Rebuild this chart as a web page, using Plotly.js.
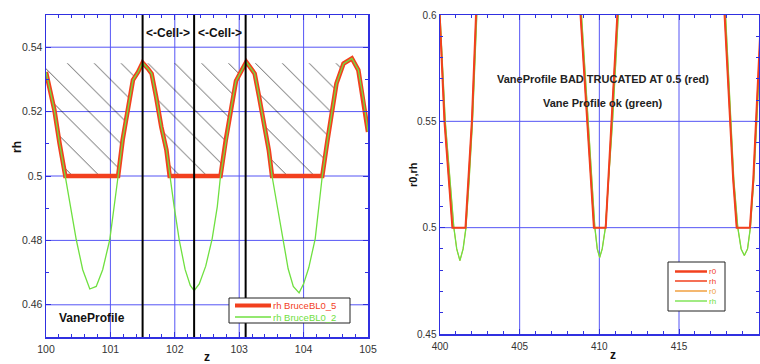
<!DOCTYPE html>
<html>
<head>
<meta charset="utf-8">
<script src="https://cdn.plot.ly/plotly-3.0.1.min.js"></script>
<style>html,body{margin:0;padding:0;background:#fff;}#chart{width:760px;height:364px;}</style>
</head>
<body>
<div id="chart"></div>
<script>
// ---------- Left panel data (z vs rh) ----------
var leftZ = [100.00,100.08,100.13,100.21,100.30,100.38,100.47,100.57,100.68,100.78,100.88,100.99,101.06,101.12,101.19,101.27,101.35,101.43,101.50,101.58,101.64,101.71,101.79,101.87,101.92,101.99,102.07,102.16,102.24,102.30,102.38,102.48,102.58,102.66,102.71,102.79,102.87,102.95,103.03,103.11,103.18,103.24,103.31,103.39,103.46,103.51,103.59,103.67,103.76,103.84,103.93,104.00,104.08,104.18,104.24,104.29,104.37,104.45,104.51,104.62,104.75,104.85,104.93,105.00];
var rhBL02 = [0.5323,0.5256,0.5205,0.5102,0.5000,0.4905,0.4802,0.4709,0.4649,0.4657,0.4709,0.4802,0.4900,0.5000,0.5112,0.5205,0.5298,0.5323,0.5352,0.5334,0.5318,0.5246,0.5153,0.5081,0.5000,0.4905,0.4800,0.4710,0.4660,0.4644,0.4665,0.4720,0.4805,0.4905,0.5000,0.5110,0.5205,0.5295,0.5325,0.5354,0.5335,0.5318,0.5245,0.5152,0.5080,0.5000,0.4905,0.4805,0.4712,0.4657,0.4637,0.4665,0.4715,0.4805,0.4905,0.5000,0.5110,0.5220,0.5287,0.5349,0.5365,0.5329,0.5236,0.5137];
var rhBL05 = [0.5323,0.5256,0.5205,0.5102,0.5000,0.5000,0.5000,0.5000,0.5000,0.5000,0.5000,0.5000,0.5000,0.5000,0.5112,0.5205,0.5298,0.5323,0.5352,0.5334,0.5318,0.5246,0.5153,0.5081,0.5000,0.5000,0.5000,0.5000,0.5000,0.5000,0.5000,0.5000,0.5000,0.5000,0.5000,0.5110,0.5205,0.5295,0.5325,0.5354,0.5335,0.5318,0.5245,0.5152,0.5080,0.5000,0.5000,0.5000,0.5000,0.5000,0.5000,0.5000,0.5000,0.5000,0.5000,0.5000,0.5110,0.5220,0.5287,0.5349,0.5365,0.5329,0.5236,0.5137];
var hatchTop = 0.535;
var hatchEndIndex = 61;          // hatch drawn up to the last peak
var cellBounds = [101.5, 102.3, 103.1];
var cellLabel = "<-Cell->";
var leftYGrid = [0.46, 0.48, 0.50, 0.52, 0.54];
var leftXGrid = [101, 102, 103, 104];

// ---------- Right panel data (z vs r0,rh) ----------
var zOk = [399.90,400.00,400.33,400.63,400.87,401.05,401.25,401.45,401.63,401.83,402.04,402.31,402.50,406.00,408.70,408.88,409.29,409.55,409.72,409.87,410.02,410.18,410.38,410.58,410.83,411.19,411.40,414.50,417.75,417.92,418.25,418.44,418.69,418.90,419.10,419.30,419.48,419.69,419.88,420.20];
var profOk = [0.620,0.600,0.550,0.5225,0.500,0.490,0.4845,0.490,0.500,0.5225,0.550,0.600,0.630,0.800,0.625,0.600,0.550,0.5225,0.500,0.490,0.486,0.490,0.500,0.5225,0.550,0.600,0.630,0.800,0.625,0.600,0.550,0.5225,0.500,0.490,0.4869,0.490,0.500,0.5225,0.550,0.600];
var zBad = [399.90,399.98,400.28,400.58,400.78,401.60,401.80,402.00,402.26,402.45,406.00,408.65,408.82,409.22,409.48,409.66,410.40,410.56,410.80,411.15,411.35,414.50,417.70,417.86,418.20,418.40,418.62,419.45,419.66,419.85,420.15];
var profBad = [0.620,0.600,0.550,0.5225,0.500,0.500,0.5225,0.550,0.600,0.630,0.800,0.625,0.600,0.550,0.5225,0.500,0.500,0.5225,0.550,0.600,0.630,0.800,0.625,0.600,0.550,0.5225,0.500,0.500,0.5225,0.550,0.600];
var rightYGrid = [0.50, 0.55];
var rightXGrid = [405, 410, 415];

var leftNames = ["rh BruceBL0_5", "rh BruceBL0_2"];
var rightNames = ["r0", "rh", "r0", "rh"];

var RED = "#f2401e", GREEN = "#6fe040", ORANGE = "#f0a040";
var W = 760, H = 364;
function px(x){ return x / W; }
function py(y){ return 1 - y / H; }

var hz = leftZ.slice(0, hatchEndIndex);
var traces = [
  {x: hz, y: hz.map(function(){return hatchTop;}), xaxis:'x', yaxis:'y', mode:'lines',
   line:{width:0, color:'rgba(0,0,0,0)'}, hoverinfo:'skip', showlegend:false},
  {x: hz, y: rhBL05.slice(0, hatchEndIndex), xaxis:'x', yaxis:'y', mode:'lines', fill:'tonexty',
   fillcolor:'rgba(0,0,0,0)', line:{width:0, color:'rgba(0,0,0,0)'},
   fillpattern:{shape:'\\', fgcolor:'#000', fgopacity:0.8, bgcolor:'rgba(0,0,0,0)', size:19, solidity:0.04},
   hoverinfo:'skip', showlegend:false},
  {x: leftZ, y: rhBL05, xaxis:'x', yaxis:'y', mode:'lines', name:leftNames[0],
   line:{color:RED, width:4.5}, showlegend:false},
  {x: leftZ, y: rhBL02, xaxis:'x', yaxis:'y', mode:'lines', name:leftNames[1],
   line:{color:GREEN, width:1.3}, showlegend:false},
  {x: zOk, y: profOk, xaxis:'x2', yaxis:'y2', mode:'lines', name:rightNames[2],
   line:{color:ORANGE, width:1}, showlegend:false},
  {x: zOk, y: profOk, xaxis:'x2', yaxis:'y2', mode:'lines', name:rightNames[3],
   line:{color:GREEN, width:1.3}, showlegend:false},
  {x: zBad, y: profBad, xaxis:'x2', yaxis:'y2', mode:'lines', name:rightNames[0],
   line:{color:RED, width:2}, showlegend:false},
  {x: zBad, y: profBad, xaxis:'x2', yaxis:'y2', mode:'lines', name:rightNames[1],
   line:{color:RED, width:1}, showlegend:false}
];

var FONT = "Liberation Sans, Arial, sans-serif";
var LINE = "#3030e0", GRID = "#5555f5";
function axisBase(o){
  var a = {showline:true, linecolor:LINE, linewidth:1.5, mirror:'allticks',
    showgrid:false, zeroline:false,
    ticks:'inside', ticklen:5, tickcolor:LINE, tickwidth:1,
    tickfont:{family:FONT, size:10.5, color:'#333'}, fixedrange:true};
  for (var k in o) a[k] = o[k];
  return a;
}

var shapes = [];
// grid lines
leftYGrid.forEach(function(v){
  shapes.push({type:'line', xref:'x domain', yref:'y', x0:0, x1:1, y0:v, y1:v,
    line:{color:GRID, width:1}, layer:'below'});
});
leftXGrid.forEach(function(v){
  shapes.push({type:'line', xref:'x', yref:'y domain', x0:v, x1:v, y0:0, y1:1,
    line:{color:GRID, width:1}, layer:'below'});
});
rightYGrid.forEach(function(v){
  shapes.push({type:'line', xref:'x2 domain', yref:'y2', x0:0, x1:1, y0:v, y1:v,
    line:{color:GRID, width:1}, layer:'below'});
});
rightXGrid.forEach(function(v){
  shapes.push({type:'line', xref:'x2', yref:'y2 domain', x0:v, x1:v, y0:0, y1:1,
    line:{color:GRID, width:1}, layer:'below'});
});
cellBounds.forEach(function(c){
  shapes.push({type:'line', xref:'x', yref:'y domain', x0:c, x1:c, y0:0, y1:1,
    line:{color:'#000', width:2}});
});
// left legend box & samples
shapes.push({type:'rect', xref:'paper', yref:'paper', x0:px(229), x1:px(350), y0:py(323), y1:py(298),
  line:{color:'#222', width:1}, fillcolor:'#fff', layer:'above'});
shapes.push({type:'line', xref:'paper', yref:'paper', x0:px(235), x1:px(271), y0:py(305.5), y1:py(305.5),
  line:{color:RED, width:4}, layer:'above'});
shapes.push({type:'line', xref:'paper', yref:'paper', x0:px(235), x1:px(271), y0:py(317), y1:py(317),
  line:{color:GREEN, width:1.3}, layer:'above'});
// right legend box & samples
shapes.push({type:'rect', xref:'paper', yref:'paper', x0:px(668), x1:px(725), y0:py(311), y1:py(262),
  line:{color:'#222', width:1}, fillcolor:'#fff', layer:'above'});
var rCols = [RED, RED, ORANGE, GREEN], rW = [2.5, 1.5, 1.5, 1.3], rY = [271.5, 281, 291, 301];
for (var i = 0; i < 4; i++) {
  shapes.push({type:'line', xref:'paper', yref:'paper', x0:px(675), x1:px(707), y0:py(rY[i]), y1:py(rY[i]),
    line:{color:rCols[i], width:rW[i]}, layer:'above'});
}

function ann(x, y, text, size, color, extra){
  var a = {xref:'paper', yref:'paper', x:px(x), y:py(y), text:text, showarrow:false,
    xanchor:'center', yanchor:'middle', font:{family:FONT, size:size, color:color}};
  if (extra) for (var k in extra) a[k] = extra[k];
  return a;
}
var annotations = [
  {xref:'x', yref:'paper', x:(cellBounds[0]+cellBounds[1])/2, y:py(33), text:'<b>'+cellLabel+'</b>', showarrow:false,
   xanchor:'center', yanchor:'middle', font:{family:FONT, size:12, color:'#111'}},
  {xref:'x', yref:'paper', x:(cellBounds[1]+cellBounds[2])/2, y:py(33), text:'<b>'+cellLabel+'</b>', showarrow:false,
   xanchor:'center', yanchor:'middle', font:{family:FONT, size:12, color:'#111'}},
  ann(92, 318, '<b>VaneProfile</b>', 12, '#111'),
  ann(603, 79, '<b>VaneProfile BAD TRUCATED AT 0.5 (red)</b>', 11, '#222'),
  ann(603, 103, '<b>Vane Profile ok (green)</b>', 11, '#222'),
  ann(271, 305.5, leftNames[0], 9.5, RED, {xanchor:'left'}),
  ann(271, 317, leftNames[1], 9.5, GREEN, {xanchor:'left'}),
  // axis titles placed as in the reference
  ann(17, 147, '<b>rh</b>', 12, '#111', {textangle:-90}),
  ann(413, 175, '<b>r0,rh</b>', 11, '#111', {textangle:-90}),
  ann(613, 355, '<b>z</b>', 12, '#111')
];
for (var j = 0; j < 4; j++) {
  annotations.push(ann(707, rY[j], rightNames[j], 8, rCols[j], {xanchor:'left'}));
}

var layout = {
  width:W, height:H, margin:{l:0, r:0, t:0, b:0}, paper_bgcolor:'#fff', plot_bgcolor:'#fff',
  showlegend:false,
  xaxis: axisBase({domain:[px(46), px(368)], range:[100,105], anchor:'y', dtick:1, tick0:100, ticklabelstandoff:2,
    minor:{dtick:0.2, ticklen:3, tickcolor:LINE, ticks:'inside', showgrid:false},
    title:{text:'<b>z</b>', font:{family:FONT, size:12, color:'#111'}, standoff:3}}),
  yaxis: axisBase({domain:[py(337), py(15)], range:[0.45,0.55], anchor:'x', dtick:0.02, tick0:0,
    minor:{dtick:0.01, ticklen:3, tickcolor:LINE, ticks:'inside', showgrid:false}}),
  xaxis2: axisBase({domain:[px(440), px(759)], range:[400,420.02], anchor:'y2', dtick:5, tick0:400, ticklabelstandoff:2,
    tickfont:{family:FONT, size:10, color:'#333'},
    minor:{dtick:1, ticklen:3, tickcolor:LINE, ticks:'inside', showgrid:false}}),
  yaxis2: axisBase({domain:[py(334), py(15)], range:[0.45,0.6], anchor:'x2', dtick:0.05, tick0:0,
    tickfont:{family:FONT, size:10, color:'#333'},
    minor:{dtick:0.01, ticklen:3, tickcolor:LINE, ticks:'inside', showgrid:false}}),
  shapes:shapes, annotations:annotations
};

Plotly.newPlot('chart', traces, layout, {displayModeBar:false, staticPlot:true});
</script>
</body>
</html>
